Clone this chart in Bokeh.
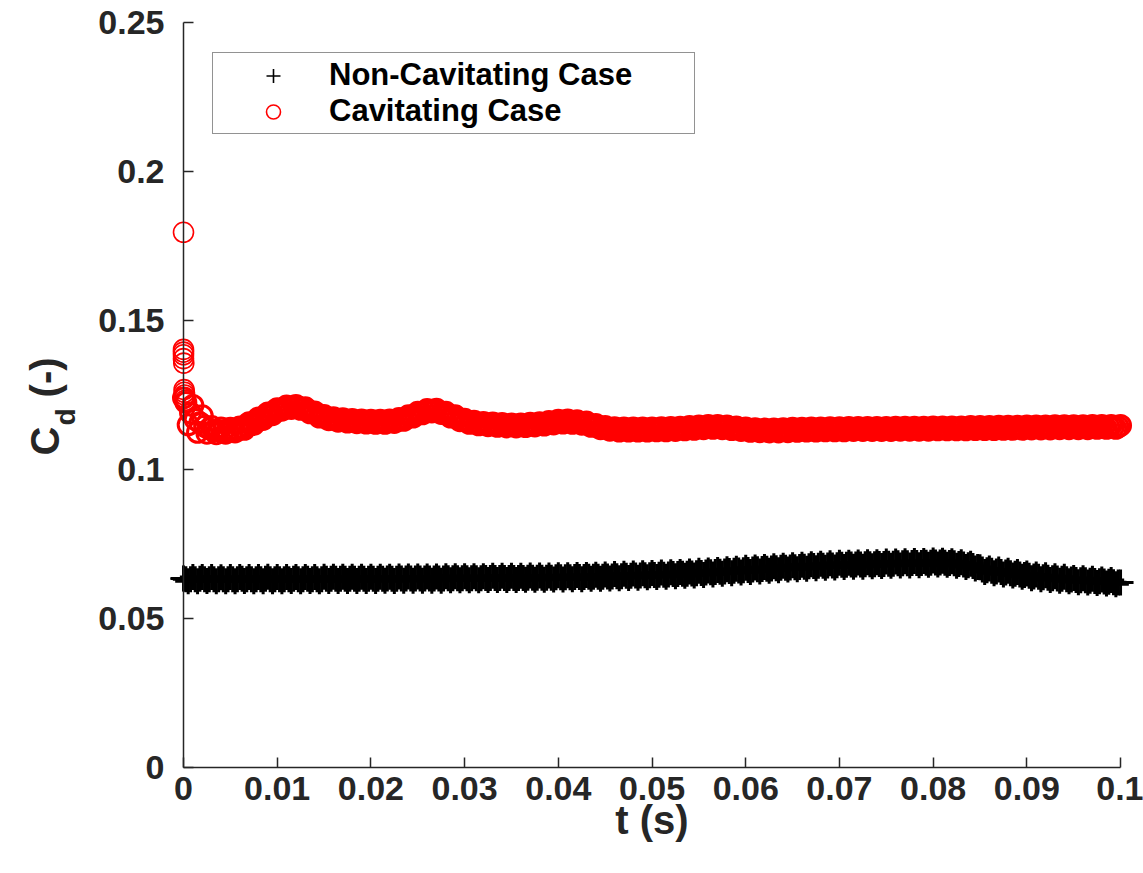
from math import pi
from bokeh.plotting import figure
from bokeh.models import (Range1d, FixedTicker, Label, Legend, LegendItem, ColumnDataSource,
                          CDSView, IndexFilter)
from bokeh.embed import file_html
from bokeh.resources import INLINE

# sampling step of the drag-coefficient histories (s)
DT = 0.00025

# Non-cavitating case: Cd every DT from t = 0 to 0.1 s
NONCAV_CD = [
    0.0634, 0.0632, 0.0625, 0.0632, 0.0639, 0.0632, 0.0625, 0.0633, 0.0639, 0.0632, 0.0626, 0.0632, 0.0639, 0.0632, 0.0625, 0.0632, 0.0638, 0.0632, 0.0625, 0.0632,
    0.0639, 0.0632, 0.0625, 0.0632, 0.0639, 0.0633, 0.0626, 0.0632, 0.0639, 0.0632, 0.0625, 0.0632, 0.0639, 0.0632, 0.0625, 0.0633, 0.0640, 0.0632, 0.0625, 0.0632,
    0.0639, 0.0632, 0.0625, 0.0632, 0.0639, 0.0632, 0.0626, 0.0633, 0.0639, 0.0632, 0.0625, 0.0632, 0.0639, 0.0633, 0.0626, 0.0632, 0.0639, 0.0632, 0.0625, 0.0632,
    0.0640, 0.0633, 0.0626, 0.0633, 0.0640, 0.0633, 0.0626, 0.0633, 0.0640, 0.0633, 0.0626, 0.0633, 0.0640, 0.0633, 0.0626, 0.0633, 0.0640, 0.0633, 0.0626, 0.0633,
    0.0640, 0.0633, 0.0626, 0.0633, 0.0640, 0.0633, 0.0627, 0.0634, 0.0640, 0.0633, 0.0626, 0.0633, 0.0641, 0.0634, 0.0627, 0.0634, 0.0641, 0.0634, 0.0627, 0.0634,
    0.0641, 0.0634, 0.0627, 0.0634, 0.0641, 0.0634, 0.0627, 0.0634, 0.0641, 0.0634, 0.0627, 0.0634, 0.0642, 0.0635, 0.0628, 0.0635, 0.0642, 0.0635, 0.0628, 0.0635,
    0.0642, 0.0635, 0.0628, 0.0635, 0.0642, 0.0635, 0.0628, 0.0635, 0.0642, 0.0636, 0.0629, 0.0636, 0.0643, 0.0636, 0.0629, 0.0636, 0.0643, 0.0636, 0.0629, 0.0636,
    0.0643, 0.0636, 0.0629, 0.0636, 0.0643, 0.0636, 0.0630, 0.0637, 0.0644, 0.0637, 0.0630, 0.0637, 0.0644, 0.0637, 0.0630, 0.0637, 0.0644, 0.0637, 0.0631, 0.0638,
    0.0645, 0.0638, 0.0631, 0.0638, 0.0645, 0.0638, 0.0632, 0.0639, 0.0646, 0.0639, 0.0632, 0.0639, 0.0646, 0.0640, 0.0633, 0.0640, 0.0647, 0.0640, 0.0633, 0.0640,
    0.0648, 0.0641, 0.0634, 0.0641, 0.0649, 0.0642, 0.0635, 0.0642, 0.0650, 0.0643, 0.0636, 0.0643, 0.0651, 0.0644, 0.0637, 0.0644, 0.0652, 0.0645, 0.0638, 0.0645,
    0.0653, 0.0646, 0.0639, 0.0647, 0.0654, 0.0647, 0.0640, 0.0648, 0.0655, 0.0649, 0.0642, 0.0649, 0.0656, 0.0650, 0.0643, 0.0650, 0.0658, 0.0651, 0.0644, 0.0652,
    0.0660, 0.0653, 0.0646, 0.0654, 0.0661, 0.0655, 0.0648, 0.0656, 0.0663, 0.0657, 0.0650, 0.0658, 0.0665, 0.0659, 0.0652, 0.0660, 0.0667, 0.0661, 0.0654, 0.0662,
    0.0670, 0.0663, 0.0656, 0.0664, 0.0671, 0.0665, 0.0658, 0.0666, 0.0673, 0.0667, 0.0660, 0.0668, 0.0675, 0.0669, 0.0662, 0.0670, 0.0677, 0.0670, 0.0664, 0.0671,
    0.0679, 0.0672, 0.0665, 0.0673, 0.0680, 0.0674, 0.0667, 0.0675, 0.0682, 0.0676, 0.0669, 0.0677, 0.0684, 0.0677, 0.0670, 0.0678, 0.0685, 0.0678, 0.0671, 0.0679,
    0.0687, 0.0680, 0.0673, 0.0680, 0.0687, 0.0681, 0.0674, 0.0681, 0.0688, 0.0681, 0.0674, 0.0682, 0.0689, 0.0682, 0.0675, 0.0682, 0.0689, 0.0683, 0.0676, 0.0683,
    0.0691, 0.0684, 0.0677, 0.0684, 0.0691, 0.0685, 0.0678, 0.0685, 0.0692, 0.0685, 0.0678, 0.0686, 0.0693, 0.0686, 0.0679, 0.0686, 0.0693, 0.0687, 0.0680, 0.0687,
    0.0695, 0.0688, 0.0681, 0.0688, 0.0694, 0.0687, 0.0680, 0.0686, 0.0692, 0.0685, 0.0677, 0.0683, 0.0689, 0.0681, 0.0673, 0.0679, 0.0684, 0.0676, 0.0668, 0.0673,
    0.0672, 0.0664, 0.0656, 0.0662, 0.0668, 0.0660, 0.0652, 0.0658, 0.0664, 0.0656, 0.0648, 0.0654, 0.0660, 0.0652, 0.0644, 0.0650, 0.0656, 0.0648, 0.0640, 0.0646,
    0.0651, 0.0643, 0.0635, 0.0641, 0.0648, 0.0640, 0.0632, 0.0638, 0.0645, 0.0637, 0.0629, 0.0635, 0.0642, 0.0634, 0.0627, 0.0633, 0.0640, 0.0632, 0.0625, 0.0631,
    0.0636, 0.0629, 0.0622, 0.0628, 0.0635, 0.0628, 0.0621, 0.0627, 0.0633, 0.0626, 0.0619, 0.0625, 0.0631, 0.0624, 0.0617, 0.0623, 0.0629, 0.0622, 0.0615, 0.0621,
    0.0621,
]

# Cavitating case: Cd every DT from t = 0 to 0.1 s
CAV_CD = [
    0.1240, 0.1225, 0.1150, 0.1190, 0.1215, 0.1168, 0.1125, 0.1157, 0.1180, 0.1145, 0.1122, 0.1136, 0.1144, 0.1131, 0.1120, 0.1130, 0.1139, 0.1130, 0.1122, 0.1130,
    0.1138, 0.1132, 0.1126, 0.1134, 0.1143, 0.1139, 0.1135, 0.1146, 0.1157, 0.1154, 0.1151, 0.1162, 0.1173, 0.1170, 0.1168, 0.1179, 0.1190, 0.1187, 0.1184, 0.1195,
    0.1204, 0.1201, 0.1199, 0.1206, 0.1213, 0.1209, 0.1205, 0.1210, 0.1215, 0.1209, 0.1202, 0.1205, 0.1207, 0.1199, 0.1190, 0.1192, 0.1193, 0.1185, 0.1176, 0.1178,
    0.1181, 0.1174, 0.1167, 0.1170, 0.1174, 0.1168, 0.1162, 0.1166, 0.1170, 0.1164, 0.1159, 0.1163, 0.1168, 0.1162, 0.1157, 0.1162, 0.1166, 0.1161, 0.1156, 0.1161,
    0.1165, 0.1160, 0.1155, 0.1160, 0.1165, 0.1160, 0.1155, 0.1160, 0.1166, 0.1162, 0.1158, 0.1164, 0.1171, 0.1168, 0.1165, 0.1172, 0.1180, 0.1178, 0.1176, 0.1184,
    0.1192, 0.1190, 0.1187, 0.1194, 0.1201, 0.1197, 0.1193, 0.1198, 0.1202, 0.1195, 0.1188, 0.1190, 0.1192, 0.1184, 0.1176, 0.1178, 0.1180, 0.1172, 0.1164, 0.1166,
    0.1169, 0.1162, 0.1155, 0.1158, 0.1162, 0.1156, 0.1150, 0.1154, 0.1158, 0.1152, 0.1147, 0.1151, 0.1156, 0.1150, 0.1145, 0.1149, 0.1154, 0.1148, 0.1143, 0.1148,
    0.1153, 0.1148, 0.1143, 0.1148, 0.1153, 0.1148, 0.1144, 0.1149, 0.1155, 0.1150, 0.1146, 0.1151, 0.1157, 0.1153, 0.1149, 0.1155, 0.1161, 0.1157, 0.1153, 0.1159,
    0.1165, 0.1160, 0.1156, 0.1161, 0.1166, 0.1161, 0.1155, 0.1160, 0.1164, 0.1158, 0.1152, 0.1156, 0.1159, 0.1152, 0.1145, 0.1148, 0.1151, 0.1144, 0.1137, 0.1140,
    0.1144, 0.1138, 0.1132, 0.1136, 0.1140, 0.1134, 0.1129, 0.1134, 0.1139, 0.1134, 0.1129, 0.1134, 0.1139, 0.1134, 0.1129, 0.1134, 0.1139, 0.1134, 0.1129, 0.1134,
    0.1139, 0.1134, 0.1130, 0.1135, 0.1140, 0.1135, 0.1130, 0.1136, 0.1141, 0.1136, 0.1131, 0.1137, 0.1142, 0.1137, 0.1133, 0.1138, 0.1144, 0.1139, 0.1135, 0.1141,
    0.1146, 0.1142, 0.1137, 0.1142, 0.1148, 0.1143, 0.1138, 0.1143, 0.1148, 0.1142, 0.1137, 0.1141, 0.1146, 0.1140, 0.1134, 0.1139, 0.1143, 0.1137, 0.1131, 0.1135,
    0.1139, 0.1133, 0.1128, 0.1133, 0.1137, 0.1132, 0.1127, 0.1132, 0.1136, 0.1131, 0.1126, 0.1131, 0.1136, 0.1131, 0.1126, 0.1131, 0.1137, 0.1132, 0.1127, 0.1132,
    0.1138, 0.1133, 0.1128, 0.1133, 0.1138, 0.1134, 0.1129, 0.1134, 0.1139, 0.1134, 0.1129, 0.1134, 0.1139, 0.1134, 0.1130, 0.1135, 0.1140, 0.1135, 0.1130, 0.1135,
    0.1140, 0.1135, 0.1130, 0.1135, 0.1141, 0.1136, 0.1131, 0.1136, 0.1141, 0.1136, 0.1131, 0.1136, 0.1141, 0.1136, 0.1131, 0.1136, 0.1141, 0.1136, 0.1131, 0.1136,
    0.1141, 0.1136, 0.1131, 0.1136, 0.1142, 0.1137, 0.1132, 0.1137, 0.1142, 0.1137, 0.1132, 0.1137, 0.1142, 0.1137, 0.1132, 0.1137, 0.1142, 0.1137, 0.1132, 0.1137,
    0.1143, 0.1138, 0.1133, 0.1138, 0.1143, 0.1138, 0.1133, 0.1138, 0.1143, 0.1138, 0.1133, 0.1138, 0.1143, 0.1138, 0.1133, 0.1138, 0.1144, 0.1139, 0.1134, 0.1139,
    0.1144, 0.1139, 0.1134, 0.1139, 0.1144, 0.1139, 0.1134, 0.1139, 0.1145, 0.1140, 0.1135, 0.1140, 0.1145, 0.1140, 0.1135, 0.1140, 0.1145, 0.1140, 0.1135, 0.1140,
    0.1146, 0.1141, 0.1136, 0.1141, 0.1146, 0.1141, 0.1136, 0.1141, 0.1146, 0.1141, 0.1136, 0.1141, 0.1147, 0.1142, 0.1137, 0.1142, 0.1147, 0.1142, 0.1137, 0.1142,
    0.1147, 0.1142, 0.1137, 0.1142, 0.1147, 0.1142, 0.1137, 0.1142, 0.1148, 0.1143, 0.1138, 0.1143, 0.1148, 0.1143, 0.1138, 0.1143, 0.1148, 0.1143, 0.1138, 0.1143,
    0.1148,
]

# Cavitating case: start-up transient samples (very small time steps near t = 0)
CAV_START_T = [0.0, 0.0, 0.0, 0.0, 0.0, 0.00003, 0.00006, 0.00009, 0.00012, 0.00015, 0.00018]
CAV_START_CD = [0.1796, 0.1403, 0.1394, 0.1385, 0.1372, 0.1357, 0.1268, 0.1259, 0.1250, 0.1241, 0.1232]

SERIES_NAMES = ["Non-Cavitating Case", "Cavitating Case"]

X_TICKS = [0.0, 0.01, 0.02, 0.03, 0.04, 0.05, 0.06, 0.07, 0.08, 0.09, 0.1]
X_TICK_LABELS = ["0", "0.01", "0.02", "0.03", "0.04", "0.05", "0.06", "0.07", "0.08", "0.09", "0.1"]
Y_TICKS = [0.0, 0.05, 0.1, 0.15, 0.2, 0.25]
Y_TICK_LABELS = ["0", "0.05", "0.1", "0.15", "0.2", "0.25"]

t_noncav = [round(i * DT, 6) for i in range(len(NONCAV_CD))]
t_cav = [round(i * DT, 6) for i in range(len(CAV_CD))]

src_noncav = ColumnDataSource(data=dict(t=t_noncav, cd=NONCAV_CD))
src_cav = ColumnDataSource(data=dict(t=t_cav, cd=CAV_CD))
src_cav_start = ColumnDataSource(data=dict(t=CAV_START_T, cd=CAV_START_CD))

FONT = "Liberation Sans"
TXT = "#262626"

# The plotting frame covers the whole canvas; the axes are placed at t = 0 and Cd = 0
# so that markers on the axes and the axis titles are never clipped.
p = figure(
    frame_width=1143, frame_height=873, min_border=0,
    x_range=Range1d(-0.01953, 0.10245), y_range=Range1d(-0.03558, 0.25739),
    output_backend="svg", toolbar_location=None,
    background_fill_color="white", border_fill_color="white",
)
p.outline_line_color = None
p.grid.visible = False

# dense histories (heavy strokes so the overlapping markers merge into a band)
p.scatter("t", "cd", source=src_noncav, marker="cross", size=26,
          line_color="black", line_width=3.0)
p.scatter("t", "cd", source=src_cav, marker="circle", size=20,
          line_color="#ff0000", fill_color=None, line_width=3.0)
# isolated start-up samples and legend entries (thin strokes)
r_cav = p.scatter("t", "cd", source=src_cav_start, marker="circle", size=20,
                  line_color="#ff0000", fill_color=None, line_width=1.6)
r_noncav = p.scatter("t", "cd", source=src_noncav, view=CDSView(filter=IndexFilter(indices=[0])),
                     marker="cross", size=26, line_color="black", line_width=1.6)

xa = p.xaxis[0]
ya = p.yaxis[0]
xa.fixed_location = 0.0
ya.fixed_location = 0.0
xa.bounds = (0.0, 0.1)
ya.bounds = (0.0, 0.25)

xa.ticker = FixedTicker(ticks=X_TICKS)
xa.major_label_overrides = {t: l for t, l in zip(X_TICKS, X_TICK_LABELS)}
ya.ticker = FixedTicker(ticks=Y_TICKS)
ya.major_label_overrides = {t: l for t, l in zip(Y_TICKS, Y_TICK_LABELS)}

for ax in (xa, ya):
    ax.axis_line_color = TXT
    ax.axis_line_width = 1.5
    ax.major_tick_line_color = TXT
    ax.major_tick_line_width = 1.5
    ax.major_tick_in = 10
    ax.major_tick_out = 0
    ax.minor_tick_line_color = None
    ax.major_label_text_font = FONT
    ax.major_label_text_font_style = "bold"
    ax.major_label_text_font_size = "34px"
    ax.major_label_text_color = TXT

ya.major_label_standoff = 19
xa.major_label_standoff = 10
xa.axis_label = "t (s)"
xa.axis_label_text_font = FONT
xa.axis_label_text_font_style = "bold"
xa.axis_label_text_font_size = "40px"
xa.axis_label_text_color = TXT
xa.axis_label_standoff = -6

# y-axis title  C_d (-)  built from real text pieces (subscript d), data units
lab_kw = dict(angle=pi / 2, text_font=FONT, text_font_style="bold", text_color=TXT,
              text_align="left", text_baseline="alphabetic")
p.add_layout(Label(x=-0.01473, y=0.1047, text="C", text_font_size="40px", **lab_kw))
p.add_layout(Label(x=-0.01260, y=0.1148, text="d", text_font_size="28px", **lab_kw))
p.add_layout(Label(x=-0.01473, y=0.1242, text="(-)", text_font_size="40px", **lab_kw))

legend = Legend(
    items=[LegendItem(label=SERIES_NAMES[0], renderers=[r_noncav]),
           LegendItem(label=SERIES_NAMES[1], renderers=[r_cav])],
    location=(212, 739), margin=0, padding=4, spacing=0,
    glyph_width=112, glyph_height=35, label_height=35, label_width=361, label_standoff=0,
    label_text_font=FONT, label_text_font_style="bold", label_text_font_size="31px",
    label_text_color="black", border_line_color=TXT, border_line_width=1.5,
    background_fill_color="white", background_fill_alpha=1.0,
)
p.add_layout(legend)

open("out.html", "w").write(file_html(p, INLINE))
